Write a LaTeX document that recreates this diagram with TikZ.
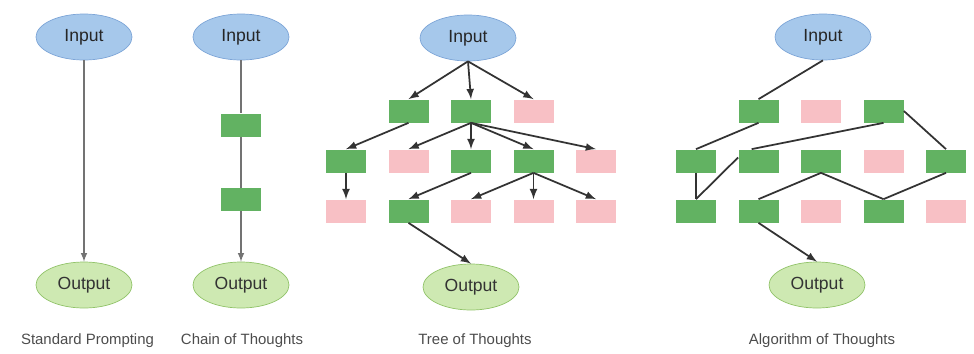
\documentclass[tikz,border=0pt]{standalone}
\usepackage{fontspec}
\setmainfont{Liberation Sans}
\usetikzlibrary{shapes.geometric}

\definecolor{inblue}{RGB}{166,200,235}
\definecolor{inblueline}{RGB}{125,165,215}
\definecolor{outgreen}{RGB}{206,233,178}
\definecolor{outgreenline}{RGB}{145,195,105}
\definecolor{goodgreen}{RGB}{98,178,98}
\definecolor{badpink}{RGB}{248,192,197}

\tikzset{
    inbox/.style={ellipse, draw=inblueline, fill=inblue, minimum width=1.92cm, minimum height=0.92cm,
        inner sep=0pt, text=black!85, font=\fontsize{10}{12}\selectfont},
    outbox/.style={ellipse, draw=outgreenline, fill=outgreen, minimum width=1.92cm, minimum height=0.92cm,
        inner sep=0pt, text=black!80, font=\fontsize{10}{12}\selectfont},
    goodbox/.style={rectangle, fill=goodgreen, minimum width=0.8cm, minimum height=0.46cm, inner sep=0pt},
    badbox/.style={rectangle, fill=badpink, minimum width=0.8cm, minimum height=0.46cm, inner sep=0pt},
    conn/.style={draw=black!80, line width=1pt},
    thinconn/.style={draw=black!55, line width=0.7pt},
    captiontext/.style={font=\fontsize{8.5}{10}\selectfont, text=black!70}
}

\begin{document}
\begin{tikzpicture}
        \useasboundingbox (0, 0) rectangle (19.48, 7.06);

        % standard prompting
        \node[inbox] (in1) at (1.68, 6.32) {Input};
        \node[outbox] (out1) at (1.68, 1.36) {Output};
        \draw[thinconn, -latex] (in1) -- (out1);
        \node[captiontext] (cap1) at (1.75, 0.24) {Standard Prompting};

        % chain of thoughts
        \node[inbox] (in2) at (4.82, 6.32) {Input};
        \node[goodbox] (c1) at (4.82, 4.56) {};
        \node[goodbox] (c2) at (4.82, 3.07) {};
        \node[outbox] (out2) at (4.82, 1.36) {Output};
        \draw[thinconn] (in2) -- (c1);
        \draw[thinconn] (c1) -- (c2);
        \draw[thinconn, -latex] (c2) -- (out2);
        \node[captiontext] (cap2) at (4.84, 0.24) {Chain of Thoughts};

        % tree of thoughts
        \node[inbox] (in3) at (9.36, 6.30) {Input};
        \node[goodbox] (t11) at (8.17, 4.84) {};
        \node[goodbox] (t12) at (9.42, 4.84) {};
        \node[badbox] (t13) at (10.67, 4.84) {};
        \node[goodbox] (t21) at (6.92, 3.84) {};
        \node[badbox] (t22) at (8.17, 3.84) {};
        \node[goodbox] (t23) at (9.42, 3.84) {};
        \node[goodbox] (t24) at (10.67, 3.84) {};
        \node[badbox] (t25) at (11.92, 3.84) {};
        \node[badbox] (t31) at (6.92, 2.84) {};
        \node[goodbox] (t32) at (8.17, 2.84) {};
        \node[badbox] (t33) at (9.42, 2.84) {};
        \node[badbox] (t34) at (10.67, 2.84) {};
        \node[badbox] (t35) at (11.92, 2.84) {};
        \node[outbox] (out3) at (9.42, 1.32) {Output};
        \draw[conn, -latex] (in3.south) -- (t11.north);
        \draw[conn, -latex] (in3.south) -- (t12.north);
        \draw[conn, -latex] (in3.south) -- (t13.north);
        \draw[conn, -latex] (t11.south) -- (t21.north);
        \draw[conn, -latex] (t12.south) -- (t22.north);
        \draw[conn, -latex] (t12.south) -- (t23.north);
        \draw[conn, -latex] (t12.south) -- (t24.north);
        \draw[conn, -latex] (t12.south) -- (t25.north);
        \draw[conn, -latex] (t21.south) -- (t31.north);
        \draw[conn, -latex] (t23.south) -- (t32.north);
        \draw[conn, -latex] (t24.south) -- (t33.north);
        \draw[conn, -latex] (t24.south) -- (t34.north);
        \draw[conn, -latex] (t24.south) -- (t35.north);
        \draw[conn, -latex] (t32.south) -- (out3.north);
        \node[captiontext] (cap3) at (9.50, 0.24) {Tree of Thoughts};

        % algorithm of thoughts
        \node[inbox] (in4) at (16.46, 6.32) {Input};
        \node[goodbox] (a11) at (15.17, 4.84) {};
        \node[badbox] (a12) at (16.42, 4.84) {};
        \node[goodbox] (a13) at (17.67, 4.84) {};
        \node[goodbox] (a21) at (13.92, 3.84) {};
        \node[goodbox] (a22) at (15.17, 3.84) {};
        \node[goodbox] (a23) at (16.42, 3.84) {};
        \node[badbox] (a24) at (17.67, 3.84) {};
        \node[goodbox] (a25) at (18.92, 3.84) {};
        \node[goodbox] (a31) at (13.92, 2.84) {};
        \node[goodbox] (a32) at (15.17, 2.84) {};
        \node[badbox] (a33) at (16.42, 2.84) {};
        \node[goodbox] (a34) at (17.67, 2.84) {};
        \node[badbox] (a35) at (18.92, 2.84) {};
        \node[outbox] (out4) at (16.34, 1.36) {Output};
        \draw[conn] (in4.south) -- (a11.north);
        \draw[conn] (a11.south) -- (a21.north);
        \draw[conn] (a21.south) -- (a31.north);
        \draw[conn] (a13.south) -- (a22.120);
        \draw[conn] (a22.170) -- (a31.north);
        \draw[conn] (a13.east) -- (a25.north);
        \draw[conn] (a25.south) -- (a34.north);
        \draw[conn] (a23.south) -- (a34.north);
        \draw[conn] (a23.south) -- (a32.north);
        \draw[conn, -latex] (a32.south) -- (out4.north);
        \node[captiontext] (cap4) at (16.44, 0.24) {Algorithm of Thoughts};
    \end{tikzpicture}
\end{document}
